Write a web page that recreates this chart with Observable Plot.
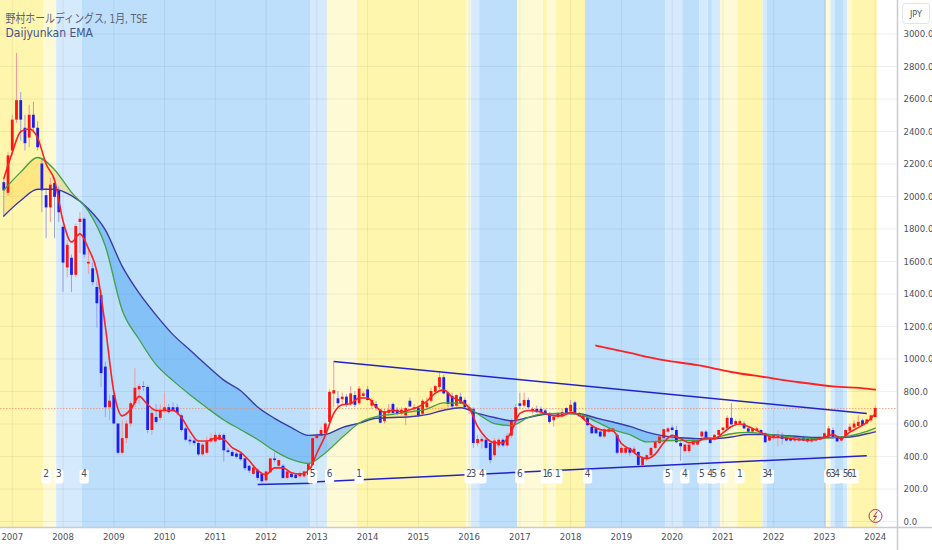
<!DOCTYPE html>
<html><head><meta charset="utf-8">
<script src="https://cdn.jsdelivr.net/npm/d3@7"></script>
<script src="https://cdn.jsdelivr.net/npm/@observablehq/plot@0.6"></script>
<style>
html,body{margin:0;padding:0;background:#fff;}
#chart svg{display:block;}
</style></head><body><div id="chart"></div>
<script>
// Monthly candles, index 0 = 2006-11, index 2 = 2007-01, index 206 = 2024-01
const open = [
2085,2020,2280,2470,2590,2420,2360,2500,2420,2200,2005,1930,2080,2035,
1810,1560,1620,1515,1840,1860,1585,1555,1440,1390,950,700,
775,600,420,510,600,725,810,830,825,560,640,635,
680,700,700,700,650,570,500,495,480,410,420,490,
490,500,530,435,425,415,415,385,340,290,315,290,
250,300,385,340,340,265,290,285,275,275,285,345,
510,525,540,610,785,755,750,765,720,775,725,770,
810,710,720,685,615,665,720,685,665,650,740,690,
695,660,700,740,795,825,885,790,770,710,765,745,
690,690,480,490,500,480,405,465,500,465,525,620,
724,710,745,680,690,690,680,665,620,640,650,695,
675,730,665,630,640,580,570,550,520,550,555,530,
420,420,450,420,425,345,380,405,450,480,510,550,
575,560,480,430,430,470,470,520,550,505,505,530,
560,570,635,595,600,600,570,550,560,560,540,495,
510,515,530,515,510,495,495,515,505,490,495,500,
515,520,560,520,495,515,555,575,585,620,600,620,
640];
const high = [
2100,2270,2500,2880,2640,2500,2560,2580,2460,2230,2050,2110,2120,2060,
1820,1730,1640,1830,1900,1870,1680,1590,1475,1420,980,780,
790,600,620,620,740,940,845,860,835,700,720,720,
790,720,730,720,660,580,520,520,490,480,520,540,
550,545,540,450,435,425,420,390,345,340,325,300,
310,390,420,380,350,310,300,295,305,310,360,520,
540,580,610,810,985,800,790,780,830,800,830,800,
830,760,740,690,690,720,730,700,700,700,760,720,
710,750,760,820,840,915,900,800,790,780,790,760,
720,700,530,520,510,490,510,510,510,540,630,720,
790,790,760,700,710,705,690,670,650,670,690,700,
745,740,670,660,650,590,580,560,575,575,575,540,
460,460,455,460,430,395,410,455,495,525,570,580,
590,585,490,475,475,510,505,555,560,515,535,565,
580,650,725,625,625,615,580,575,580,565,545,525,
535,560,545,525,515,510,515,525,510,515,515,520,
545,585,575,530,520,565,600,620,650,630,630,655,
710];
const low = [
1870,2000,2250,2450,2340,2280,2300,2390,2280,1900,1740,1840,1740,1840,
1410,1500,1410,1500,1650,1620,1520,1450,1190,825,640,620,
600,410,410,480,580,700,720,800,540,530,600,620,
665,660,670,650,550,490,470,465,400,400,410,480,
480,495,365,415,395,385,370,310,295,280,250,232,
240,295,360,330,260,255,265,260,265,265,275,340,
490,500,520,600,700,700,720,700,710,700,715,750,
740,690,680,600,600,650,660,650,650,590,700,670,
640,650,690,730,780,810,780,700,690,700,720,690,
660,450,460,445,440,355,390,450,455,455,510,600,
690,700,690,660,665,660,660,600,580,630,640,660,
665,660,640,620,585,535,535,515,510,540,545,410,
410,410,400,410,335,335,370,395,440,470,500,540,
555,480,370,420,420,460,465,510,495,475,495,525,
545,565,590,585,590,565,545,540,550,535,480,490,
500,460,470,490,490,485,485,490,480,480,490,495,
505,515,505,485,485,510,550,570,580,585,595,610,
635];
const close = [
2035,2250,2470,2590,2470,2325,2500,2420,2300,2035,1930,2070,1995,1900,
1590,1700,1515,1815,1860,1640,1595,1470,1340,910,700,740,
600,420,510,600,725,820,830,825,560,665,610,680,
700,670,680,665,560,500,490,480,410,470,490,510,
530,530,435,425,400,395,380,325,310,330,265,245,
305,385,375,375,265,305,270,265,295,305,355,510,
525,560,600,795,805,725,765,715,785,715,815,785,
745,745,695,605,675,685,665,660,685,695,705,700,
650,740,730,800,830,885,785,720,705,775,725,700,
700,480,505,505,450,375,495,500,465,525,620,700,
709,745,700,690,670,670,665,610,640,665,670,665,
715,665,645,650,590,540,540,520,565,565,570,420,
450,450,420,445,345,390,405,450,490,520,565,570,
560,485,460,470,470,500,495,550,500,480,530,560,
575,635,595,615,615,570,550,570,570,540,485,520,
530,530,505,495,495,505,510,495,490,505,510,515,
540,570,515,490,510,560,580,600,610,590,625,650,
695];

const years = [2007,2008,2009,2010,2011,2012,2013,2014,2015,2016,2017,2018,2019,2020,2021,2022,2023,2024];
const yTicks = [0,200,400,600,800,1000,1200,1400,1600,1800,2000,2200,2400,2600,2800,3000];

// EMA readings (month index -> value)
const emaIdx = [0,4,8,12,16,20,24,28,32,36,40,44,48,52,56,60,64,68,72,76,80,84,88,92,96,100,104,108,112,116,120,124,128,132,136,140,144,148,152,156,160,164,168,172,176,180,184,188,192,196,200,204,206];
const emaGreen = [2040,2150,2240,2165,2025,1910,1695,1300,1120,965,867,780,700,625,565,505,435,382,357,422,518,605,645,660,675,692,730,728,663,602,590,640,664,665,660,615,565,535,490,497,498,500,515,540,548,538,527,515,510,517,527,555,575];
const emaBlue  = [1880,1975,2045,2045,2005,1925,1795,1570,1405,1270,1150,1055,960,870,805,705,635,578,530,535,578,605,635,640,645,658,685,700,665,640,620,640,660,665,663,637,612,585,550,527,515,510,510,520,535,535,530,523,517,517,520,540,552];
const redIdx = d3.range(0, 207, 2);
const emaRed = [2110,2270,2400,2415,2360,2200,2100,1850,1720,1770,
1680,1540,1200,800,650,690,770,720,683,683,
684,640,555,495,495,513,505,455,425,375,
315,288,330,330,300,292,310,420,530,665,
718,725,760,760,705,672,684,675,688,705,
740,790,810,765,740,700,585,515,485,485,
555,665,683,678,665,650,650,672,655,610,
575,560,558,480,445,405,388,415,485,530,
510,485,492,515,508,545,585,600,585,560,
535,517,517,510,505,500,505,517,535,510,
550,578,610,665];
const longIdx = [140,148,156,164,172,180,188,196,204,206];
const emaLong = [1083,1037,993,962,920,888,857,832,818,812];

// Trend lines
const trendFromIdx = [78, 60, 73];
const trendFromVal = [985, 228, 243];
const trendToIdx   = [204, 73, 204];
const trendToVal   = [665, 236, 405];

// Phase change labels (month index, phase number)
const phaseIdx  = [10,13,19,73,77,84,110,111,113,122,128,129,131,138,157,161,165,167,168,170,174,180,181,195,196,197,199,200,201];
const phaseText = ["2","3","4","5","6","1","2","3","4","6","1","6","1","4","5","4","5","4","5","6","1","3","4","6","3","4","5","6","1"];

const phaseColor = {"1":"#fff6ad","2":"#fffad6","3":"#d5eafc","4":"#bddffb","5":"#d5eafc","6":"#fffad6"};

const candles = open.map((o, i) => ({i, o, h: high[i], l: low[i], c: close[i]}));
const upC = candles.filter(d => d.c >= d.o);
const dnC = candles.filter(d => d.c < d.o);
const emaRows = emaIdx.map((i, k) => ({i, g: emaGreen[k], b: emaBlue[k]}));
const redRows = redIdx.map((i, k) => ({i, v: emaRed[k]}));
const longRows = longIdx.map((i, k) => ({i, v: emaLong[k]}));
const trends = trendFromIdx.map((a, k) => ({x1: a, y1: trendFromVal[k], x2: trendToIdx[k], y2: trendToVal[k]}));
const tags = phaseIdx.map((i, k) => ({i, t: phaseText[k]}));
const starts = [0, ...phaseIdx];
const phases = ["1", ...phaseText];
const bands = starts.map((s, k) => ({
  x1: k === 0 ? -1.5 : s - 0.5,
  x2: k + 1 < starts.length ? starts[k + 1] - 0.5 : close.length - 0.5,
  p: phases[k]
}));
const yearIdx = years.map(y => (y - 2007) * 12 + 2);
const lastPrice = close[close.length - 1];

const tagSymbol = {draw(ctx) {
  const w = 4.6, h = 7, r = 2;
  ctx.moveTo(-w + r, -h); ctx.lineTo(w - r, -h); ctx.arcTo(w, -h, w, -h + r, r);
  ctx.lineTo(w, h - r); ctx.arcTo(w, h, w - r, h, r);
  ctx.lineTo(-w + r, h); ctx.arcTo(-w, h, -w, h - r, r);
  ctx.lineTo(-w, -h + r); ctx.arcTo(-w, -h, -w + r, -h, r); ctx.closePath();
}};

const narrow = "'Liberation Sans Narrow','Arial Narrow','DejaVu Sans Condensed','Noto Sans CJK JP',sans-serif";

const chart = Plot.plot({
  width: 932, height: 550,
  marginLeft: 0, marginRight: 35, marginTop: 0, marginBottom: 23,
  x: {domain: [-0.78, 211.27], axis: null},
  y: {domain: [-36.9, 3206.2], axis: null},
  style: {fontFamily: narrow, background: "#fff"},
  marks: [
    ...Object.keys(phaseColor).map(p => Plot.rect(bands.filter(b => b.p === p), {x1: "x1", x2: "x2", fill: phaseColor[p]})),
    Plot.gridY(yTicks, {stroke: "#2a2e39", strokeOpacity: 0.07}),
    Plot.gridX(yearIdx, {stroke: "#2a2e39", strokeOpacity: 0.07}),
    Plot.areaY(emaRows, {x: "i", y1: "b", y2: d => Math.max(d.g, d.b), fill: "#ffd54f", fillOpacity: 0.45, curve: "monotone-x"}),
    Plot.areaY(emaRows, {x: "i", y1: "g", y2: d => Math.max(d.g, d.b), fill: "#3f9ef0", fillOpacity: 0.45, curve: "monotone-x"}),
    Plot.ruleY([lastPrice], {stroke: "#f08a70", strokeOpacity: 0.75, strokeDasharray: "1.5,1.5"}),
    Plot.ruleX(upC, {x: "i", y1: "l", y2: "h", stroke: "#f29a9a", strokeWidth: 1}),
    Plot.ruleX(dnC, {x: "i", y1: "l", y2: "h", stroke: "#98a2e4", strokeWidth: 1}),
    Plot.ruleX(upC, {x: "i", y1: "o", y2: "c", stroke: "#ff1414", strokeWidth: 2.8}),
    Plot.ruleX(dnC, {x: "i", y1: "o", y2: "c", stroke: "#1e1ef0", strokeWidth: 2.8}),
    Plot.line(emaRows, {x: "i", y: "b", stroke: "#3b3ba8", strokeWidth: 1.4, curve: "monotone-x"}),
    Plot.line(emaRows, {x: "i", y: "g", stroke: "#43a047", strokeWidth: 1.3, curve: "monotone-x"}),
    Plot.line(redRows, {x: "i", y: "v", stroke: "#ff2020", strokeWidth: 1.6, curve: "monotone-x"}),
    Plot.line(longRows, {x: "i", y: "v", stroke: "#ff2020", strokeWidth: 1.8, curve: "monotone-x"}),
    Plot.link(trends, {x1: "x1", y1: "y1", x2: "x2", y2: "y2", stroke: "#2222cc", strokeWidth: 1.5}),
    Plot.dot(tags, {x: "i", frameAnchor: "bottom", dy: -51, symbol: tagSymbol, r: 5, fill: "white", stroke: "none"}),
    Plot.text(tags, {x: "i", text: "t", frameAnchor: "bottom", dy: -51, fontSize: 10, fill: "#4a4e5a"}),
    Plot.text(["野村ホールディングス, 1月, TSE"], {frameAnchor: "top-left", dx: 5, dy: 14, textAnchor: "start", fontSize: 12, fill: "#5d6477"}),
    Plot.text(["Daijyunkan EMA"], {frameAnchor: "top-left", dx: 5, dy: 28, textAnchor: "start", fontSize: 12, fill: "#44538a"}),
    Plot.axisX(yearIdx, {anchor: "bottom", tickSize: 0, tickPadding: 6, tickFormat: d => String(2007 + (d - 2) / 12), fontSize: 9.5, color: "#4c5160"}),
    Plot.axisY(yTicks, {anchor: "right", tickSize: 0, tickPadding: 6, tickFormat: d3.format(".1f"), fontSize: 9.5, color: "#4c5160"})
  ]
});
document.getElementById("chart").appendChild(chart);

// chrome: axis borders, currency box, icon
const svg = d3.select(chart);
const fx = 932 - 35, fy = 550 - 23;
svg.append("line").attr("x1", 0).attr("x2", 932).attr("y1", fy + 0.5).attr("y2", fy + 0.5).attr("stroke", "#c9cbd1").attr("stroke-width", 1.5);
svg.append("line").attr("x1", fx + 0.5).attr("x2", fx + 0.5).attr("y1", 0).attr("y2", 550).attr("stroke", "#c9cbd1").attr("stroke-width", 1.5);
svg.append("rect").attr("x", 902.5).attr("y", 3.5).attr("width", 27).attr("height", 20).attr("rx", 3).attr("fill", "#fff").attr("stroke", "#e0e3eb");
svg.append("text").attr("x", 916).attr("y", 13.5).attr("text-anchor", "middle").attr("dominant-baseline", "central").attr("font-size", 9).attr("fill", "#4c5160").text("JPY");
svg.append("circle").attr("cx", 875.5).attr("cy", 516).attr("r", 6.5).attr("fill", "none").attr("stroke", "#a33a6c").attr("stroke-width", 1);
svg.append("path").attr("d", "M877.3,511.5 L873.6,516.6 L876.6,516.2 L873.8,520.6").attr("fill", "none").attr("stroke", "#a33a6c").attr("stroke-width", 1);
svg.selectAll("text").filter(function() { return this.textContent.startsWith("野村"); })
  .attr("textLength", 142).attr("lengthAdjust", "spacingAndGlyphs");
</script>
</body></html>
